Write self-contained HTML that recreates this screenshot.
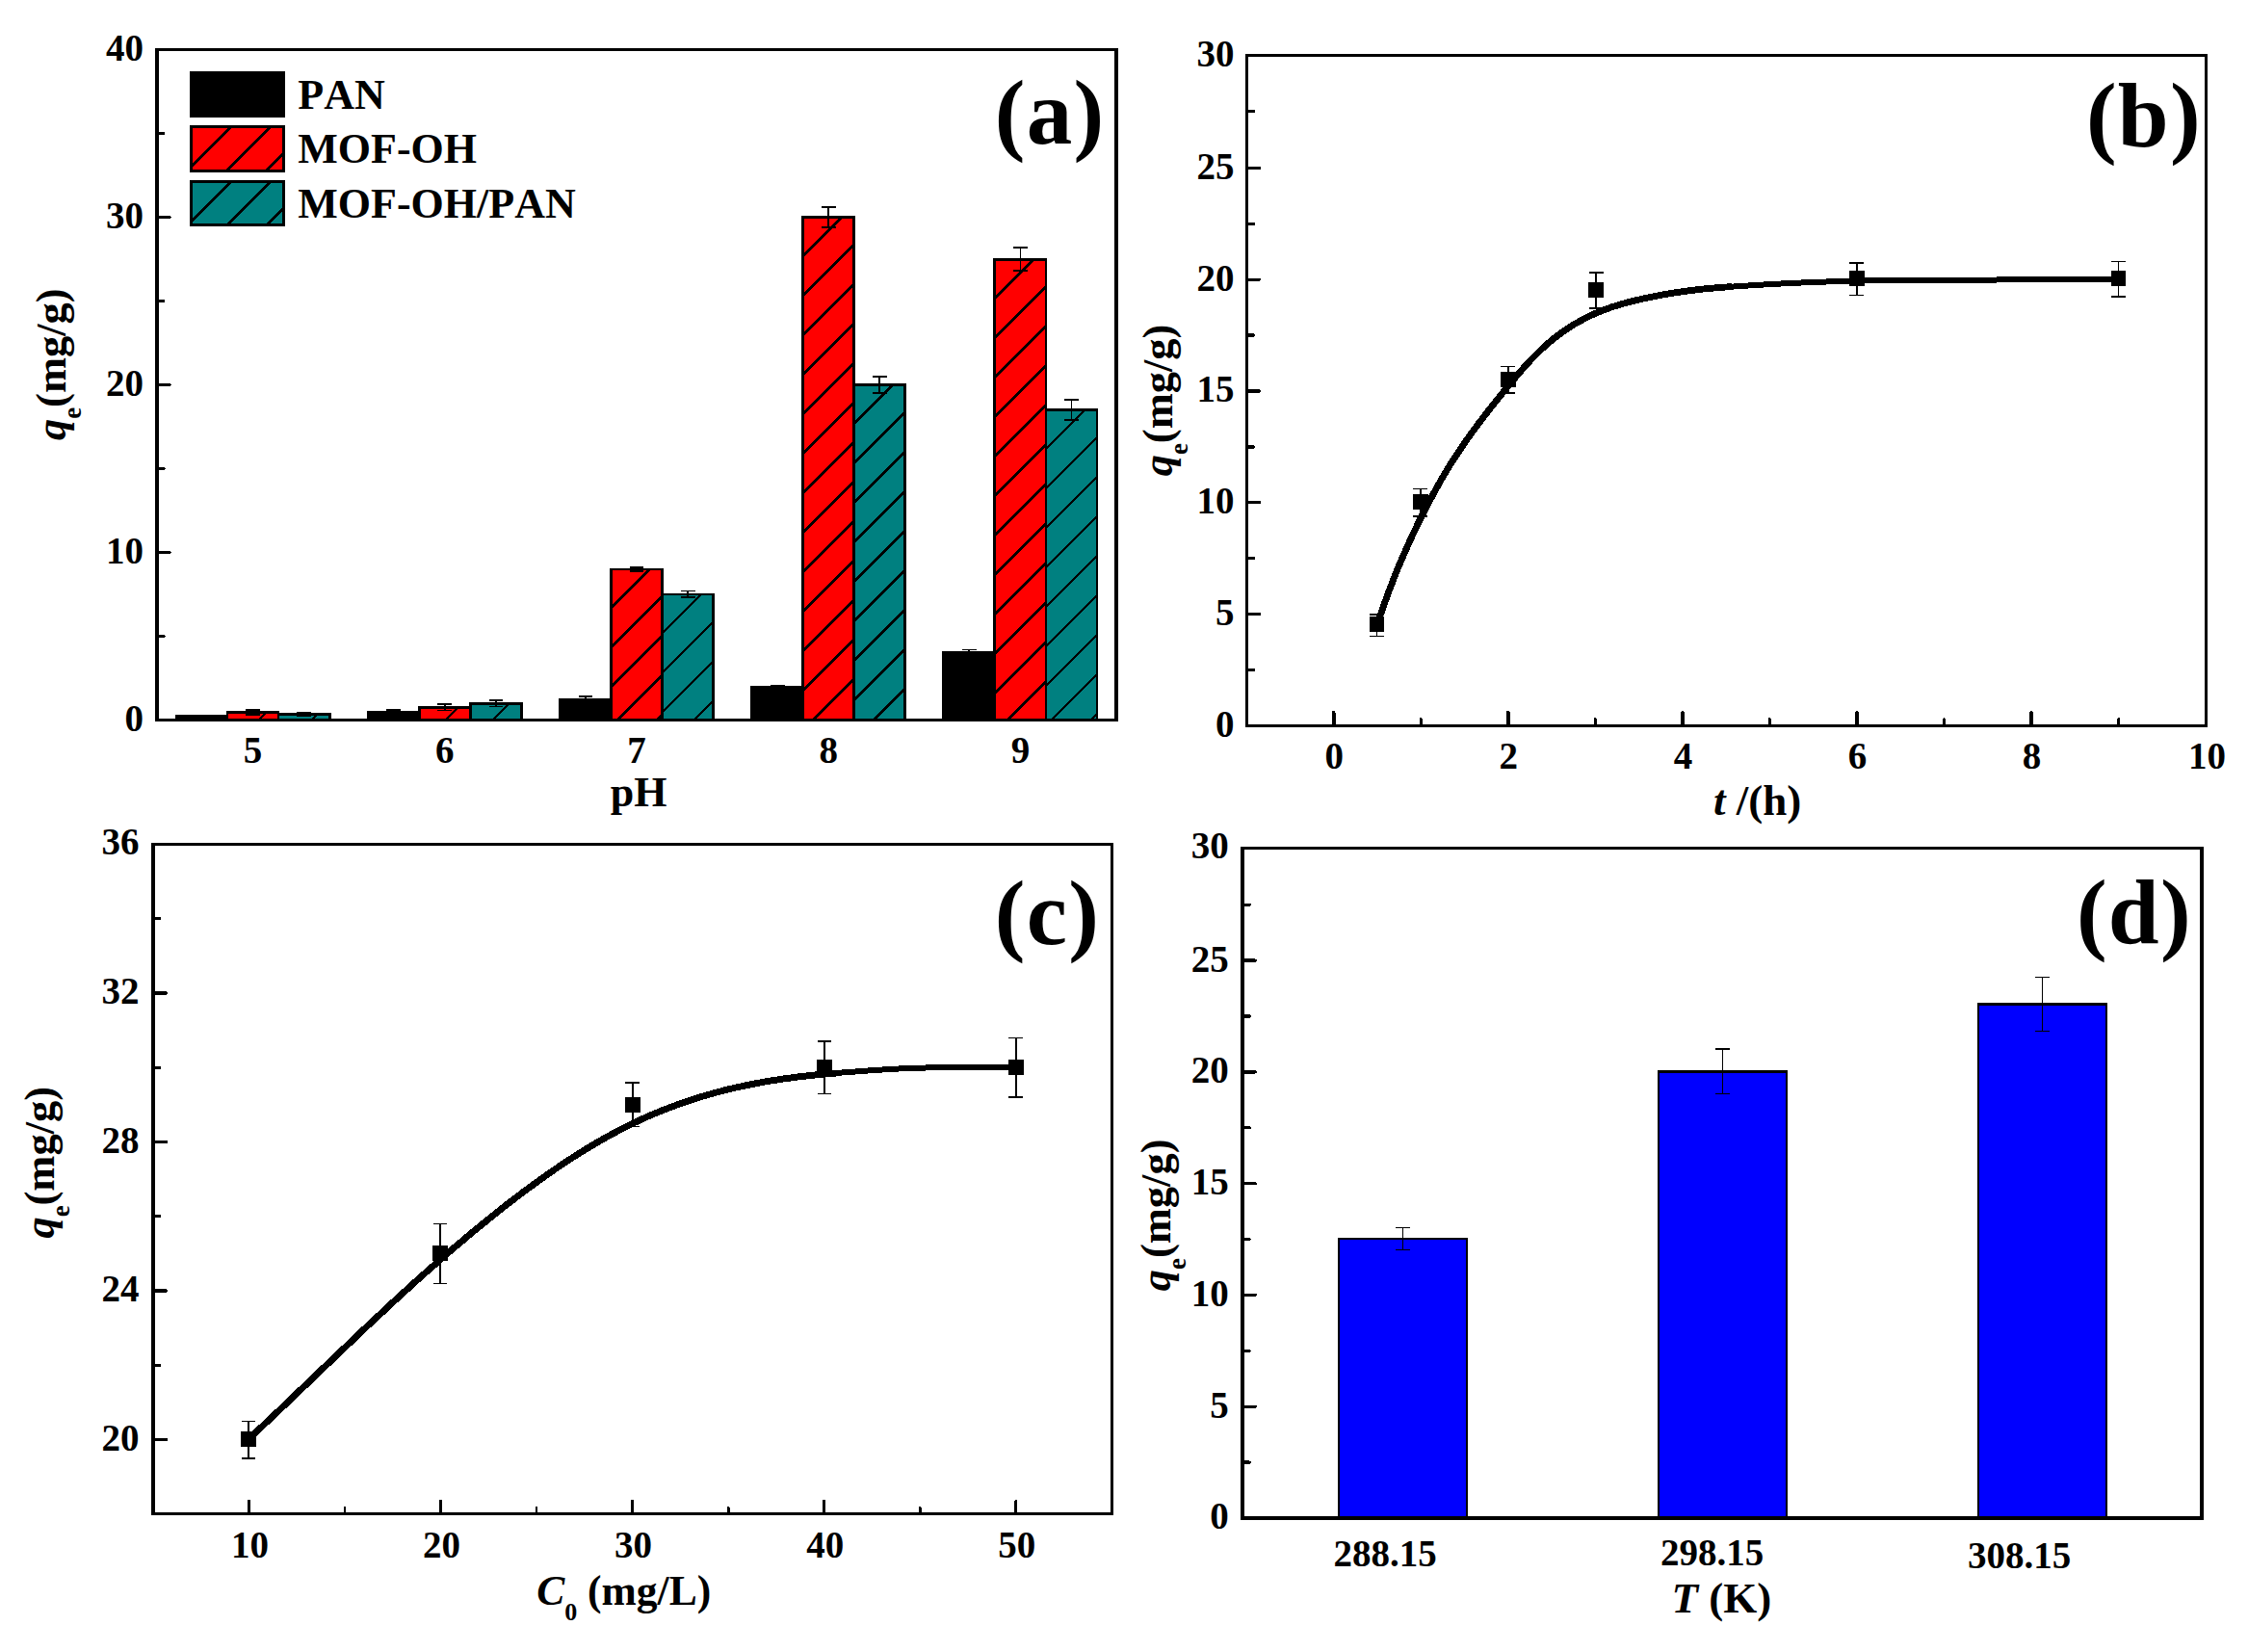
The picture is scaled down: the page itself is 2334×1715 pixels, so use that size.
<!DOCTYPE html>
<html lang="en"><head><meta charset="utf-8"><title>Adsorption figure</title>
<style>html,body{margin:0;padding:0;background:#fff}svg{display:block}line,rect,path{shape-rendering:crispEdges}text{font-kerning:none;font-family:"Liberation Serif", serif;font-weight:bold;fill:#000}</style>
</head><body>
<svg xmlns="http://www.w3.org/2000/svg" width="2334" height="1715" viewBox="0 0 2334 1715">
<rect width="2334" height="1715" fill="#fff"/>
<g id="panel-a">
<rect x="182.95" y="743.40" width="53.10" height="4.00" fill="#000" stroke="#000" stroke-width="2.7"/>
<rect x="236.05" y="739.40" width="53.10" height="8.00" fill="#ff0000" stroke="#000" stroke-width="2.7"/>
<clipPath id="c1"><rect x="236.05" y="739.40" width="53.10" height="8.00"/></clipPath>
<path d="M234.05,781.70L291.15,724.60" stroke="#000" stroke-width="2.45" fill="none" clip-path="url(#c1)"/>
<rect x="289.15" y="741.49" width="53.10" height="5.91" fill="#008080" stroke="#000" stroke-width="2.7"/>
<clipPath id="c2"><rect x="289.15" y="741.49" width="53.10" height="5.91"/></clipPath>
<path d="M287.15,783.79L344.25,726.69" stroke="#000" stroke-width="2.45" fill="none" clip-path="url(#c2)"/>
<line x1="209.50" y1="742.53" x2="209.50" y2="744.27" stroke="#000" stroke-width="2.2" stroke-linecap="butt"/>
<line x1="202.10" y1="742.53" x2="216.90" y2="742.53" stroke="#000" stroke-width="2.0" stroke-linecap="butt"/>
<line x1="202.10" y1="744.27" x2="216.90" y2="744.27" stroke="#000" stroke-width="2.0" stroke-linecap="butt"/>
<line x1="262.60" y1="737.14" x2="262.60" y2="741.66" stroke="#000" stroke-width="2.2" stroke-linecap="butt"/>
<line x1="255.20" y1="737.14" x2="270.00" y2="737.14" stroke="#000" stroke-width="2.0" stroke-linecap="butt"/>
<line x1="255.20" y1="741.66" x2="270.00" y2="741.66" stroke="#000" stroke-width="2.0" stroke-linecap="butt"/>
<line x1="315.70" y1="740.44" x2="315.70" y2="742.53" stroke="#000" stroke-width="2.2" stroke-linecap="butt"/>
<line x1="308.30" y1="740.44" x2="323.10" y2="740.44" stroke="#000" stroke-width="2.0" stroke-linecap="butt"/>
<line x1="308.30" y1="742.53" x2="323.10" y2="742.53" stroke="#000" stroke-width="2.0" stroke-linecap="butt"/>
<rect x="382.15" y="739.40" width="53.10" height="8.00" fill="#000" stroke="#000" stroke-width="2.7"/>
<rect x="435.25" y="734.36" width="53.10" height="13.04" fill="#ff0000" stroke="#000" stroke-width="2.7"/>
<clipPath id="c3"><rect x="435.25" y="734.36" width="53.10" height="13.04"/></clipPath>
<path d="M433.25,776.66L490.35,719.56" stroke="#000" stroke-width="2.45" fill="none" clip-path="url(#c3)"/>
<rect x="488.35" y="730.36" width="53.10" height="17.04" fill="#008080" stroke="#000" stroke-width="2.7"/>
<clipPath id="c4"><rect x="488.35" y="730.36" width="53.10" height="17.04"/></clipPath>
<path d="M486.35,772.66L543.45,715.56" stroke="#000" stroke-width="2.45" fill="none" clip-path="url(#c4)"/>
<line x1="408.70" y1="737.31" x2="408.70" y2="741.49" stroke="#000" stroke-width="2.2" stroke-linecap="butt"/>
<line x1="401.30" y1="737.31" x2="416.10" y2="737.31" stroke="#000" stroke-width="2.0" stroke-linecap="butt"/>
<line x1="401.30" y1="741.49" x2="416.10" y2="741.49" stroke="#000" stroke-width="2.0" stroke-linecap="butt"/>
<line x1="461.80" y1="731.23" x2="461.80" y2="737.49" stroke="#000" stroke-width="1.8" stroke-linecap="butt"/>
<line x1="454.40" y1="731.23" x2="469.20" y2="731.23" stroke="#000" stroke-width="1.6" stroke-linecap="butt"/>
<line x1="454.40" y1="737.49" x2="469.20" y2="737.49" stroke="#000" stroke-width="1.6" stroke-linecap="butt"/>
<line x1="514.90" y1="727.05" x2="514.90" y2="733.66" stroke="#000" stroke-width="1.8" stroke-linecap="butt"/>
<line x1="507.50" y1="727.05" x2="522.30" y2="727.05" stroke="#000" stroke-width="1.6" stroke-linecap="butt"/>
<line x1="507.50" y1="733.66" x2="522.30" y2="733.66" stroke="#000" stroke-width="1.6" stroke-linecap="butt"/>
<rect x="581.35" y="726.53" width="53.10" height="20.87" fill="#000" stroke="#000" stroke-width="2.7"/>
<rect x="634.45" y="590.89" width="53.10" height="156.51" fill="#ff0000" stroke="#000" stroke-width="2.7"/>
<clipPath id="c5"><rect x="634.45" y="590.89" width="53.10" height="156.51"/></clipPath>
<path d="M632.45,633.19L689.55,576.09M632.45,674.19L689.55,617.09M632.45,715.19L689.55,658.09M632.45,756.19L689.55,699.09M632.45,797.19L689.55,740.09" stroke="#000" stroke-width="2.45" fill="none" clip-path="url(#c5)"/>
<rect x="687.55" y="616.97" width="53.10" height="130.43" fill="#008080" stroke="#000" stroke-width="2.7"/>
<clipPath id="c6"><rect x="687.55" y="616.97" width="53.10" height="130.43"/></clipPath>
<path d="M685.55,659.27L742.65,602.17M685.55,700.27L742.65,643.17M685.55,741.27L742.65,684.17M685.55,782.27L742.65,725.17" stroke="#000" stroke-width="2.45" fill="none" clip-path="url(#c6)"/>
<line x1="607.90" y1="723.05" x2="607.90" y2="730.01" stroke="#000" stroke-width="1.8" stroke-linecap="butt"/>
<line x1="600.50" y1="723.05" x2="615.30" y2="723.05" stroke="#000" stroke-width="1.6" stroke-linecap="butt"/>
<line x1="600.50" y1="730.01" x2="615.30" y2="730.01" stroke="#000" stroke-width="1.6" stroke-linecap="butt"/>
<line x1="661.00" y1="588.54" x2="661.00" y2="593.24" stroke="#000" stroke-width="2.2" stroke-linecap="butt"/>
<line x1="653.60" y1="588.54" x2="668.40" y2="588.54" stroke="#000" stroke-width="2.0" stroke-linecap="butt"/>
<line x1="653.60" y1="593.24" x2="668.40" y2="593.24" stroke="#000" stroke-width="2.0" stroke-linecap="butt"/>
<line x1="714.10" y1="613.67" x2="714.10" y2="620.28" stroke="#000" stroke-width="1.8" stroke-linecap="butt"/>
<line x1="706.70" y1="613.67" x2="721.50" y2="613.67" stroke="#000" stroke-width="1.6" stroke-linecap="butt"/>
<line x1="706.70" y1="620.28" x2="721.50" y2="620.28" stroke="#000" stroke-width="1.6" stroke-linecap="butt"/>
<rect x="780.55" y="713.32" width="53.10" height="34.08" fill="#000" stroke="#000" stroke-width="2.7"/>
<rect x="833.65" y="225.70" width="53.10" height="521.70" fill="#ff0000" stroke="#000" stroke-width="2.7"/>
<clipPath id="c7"><rect x="833.65" y="225.70" width="53.10" height="521.70"/></clipPath>
<path d="M831.65,268.00L888.75,210.90M831.65,309.00L888.75,251.90M831.65,350.00L888.75,292.90M831.65,391.00L888.75,333.90M831.65,432.00L888.75,374.90M831.65,473.00L888.75,415.90M831.65,514.00L888.75,456.90M831.65,555.00L888.75,497.90M831.65,596.00L888.75,538.90M831.65,637.00L888.75,579.90M831.65,678.00L888.75,620.90M831.65,719.00L888.75,661.90M831.65,760.00L888.75,702.90M831.65,801.00L888.75,743.90" stroke="#000" stroke-width="2.45" fill="none" clip-path="url(#c7)"/>
<rect x="886.75" y="399.60" width="53.10" height="347.80" fill="#008080" stroke="#000" stroke-width="2.7"/>
<clipPath id="c8"><rect x="886.75" y="399.60" width="53.10" height="347.80"/></clipPath>
<path d="M884.75,441.90L941.85,384.80M884.75,482.90L941.85,425.80M884.75,523.90L941.85,466.80M884.75,564.90L941.85,507.80M884.75,605.90L941.85,548.80M884.75,646.90L941.85,589.80M884.75,687.90L941.85,630.80M884.75,728.90L941.85,671.80M884.75,769.90L941.85,712.80" stroke="#000" stroke-width="2.45" fill="none" clip-path="url(#c8)"/>
<line x1="807.10" y1="711.58" x2="807.10" y2="715.05" stroke="#000" stroke-width="2.2" stroke-linecap="butt"/>
<line x1="799.70" y1="711.58" x2="814.50" y2="711.58" stroke="#000" stroke-width="2.0" stroke-linecap="butt"/>
<line x1="799.70" y1="715.05" x2="814.50" y2="715.05" stroke="#000" stroke-width="2.0" stroke-linecap="butt"/>
<line x1="860.20" y1="215.27" x2="860.20" y2="236.13" stroke="#000" stroke-width="1.8" stroke-linecap="butt"/>
<line x1="852.80" y1="215.27" x2="867.60" y2="215.27" stroke="#000" stroke-width="1.6" stroke-linecap="butt"/>
<line x1="852.80" y1="236.13" x2="867.60" y2="236.13" stroke="#000" stroke-width="1.6" stroke-linecap="butt"/>
<line x1="913.30" y1="390.90" x2="913.30" y2="408.29" stroke="#000" stroke-width="1.8" stroke-linecap="butt"/>
<line x1="905.90" y1="390.90" x2="920.70" y2="390.90" stroke="#000" stroke-width="1.6" stroke-linecap="butt"/>
<line x1="905.90" y1="408.29" x2="920.70" y2="408.29" stroke="#000" stroke-width="1.6" stroke-linecap="butt"/>
<rect x="979.75" y="677.84" width="53.10" height="69.56" fill="#000" stroke="#000" stroke-width="2.7"/>
<rect x="1032.85" y="269.17" width="53.10" height="478.23" fill="#ff0000" stroke="#000" stroke-width="2.7"/>
<clipPath id="c9"><rect x="1032.85" y="269.17" width="53.10" height="478.23"/></clipPath>
<path d="M1030.85,311.48L1087.95,254.38M1030.85,352.48L1087.95,295.38M1030.85,393.48L1087.95,336.38M1030.85,434.48L1087.95,377.38M1030.85,475.48L1087.95,418.38M1030.85,516.48L1087.95,459.38M1030.85,557.48L1087.95,500.38M1030.85,598.48L1087.95,541.38M1030.85,639.48L1087.95,582.38M1030.85,680.48L1087.95,623.38M1030.85,721.48L1087.95,664.38M1030.85,762.48L1087.95,705.38" stroke="#000" stroke-width="2.45" fill="none" clip-path="url(#c9)"/>
<rect x="1085.95" y="425.68" width="53.10" height="321.72" fill="#008080" stroke="#000" stroke-width="2.7"/>
<clipPath id="c10"><rect x="1085.95" y="425.68" width="53.10" height="321.72"/></clipPath>
<path d="M1083.95,467.98L1141.05,410.88M1083.95,508.98L1141.05,451.88M1083.95,549.98L1141.05,492.88M1083.95,590.98L1141.05,533.88M1083.95,631.98L1141.05,574.88M1083.95,672.98L1141.05,615.88M1083.95,713.98L1141.05,656.88M1083.95,754.98L1141.05,697.88M1083.95,795.98L1141.05,738.88" stroke="#000" stroke-width="2.45" fill="none" clip-path="url(#c10)"/>
<line x1="1006.30" y1="674.36" x2="1006.30" y2="681.32" stroke="#000" stroke-width="1.8" stroke-linecap="butt"/>
<line x1="998.90" y1="674.36" x2="1013.70" y2="674.36" stroke="#000" stroke-width="1.6" stroke-linecap="butt"/>
<line x1="998.90" y1="681.32" x2="1013.70" y2="681.32" stroke="#000" stroke-width="1.6" stroke-linecap="butt"/>
<line x1="1059.40" y1="257.18" x2="1059.40" y2="281.17" stroke="#000" stroke-width="1.8" stroke-linecap="butt"/>
<line x1="1052.00" y1="257.18" x2="1066.80" y2="257.18" stroke="#000" stroke-width="1.6" stroke-linecap="butt"/>
<line x1="1052.00" y1="281.17" x2="1066.80" y2="281.17" stroke="#000" stroke-width="1.6" stroke-linecap="butt"/>
<line x1="1112.50" y1="415.25" x2="1112.50" y2="436.12" stroke="#000" stroke-width="1.8" stroke-linecap="butt"/>
<line x1="1105.10" y1="415.25" x2="1119.90" y2="415.25" stroke="#000" stroke-width="1.6" stroke-linecap="butt"/>
<line x1="1105.10" y1="436.12" x2="1119.90" y2="436.12" stroke="#000" stroke-width="1.6" stroke-linecap="butt"/>
<line x1="163.00" y1="50.40" x2="163.00" y2="748.80" stroke="#000" stroke-width="3.9" stroke-linecap="butt"/>
<line x1="1159.00" y1="50.40" x2="1159.00" y2="748.80" stroke="#000" stroke-width="3.7" stroke-linecap="butt"/>
<line x1="161.05" y1="51.80" x2="1160.85" y2="51.80" stroke="#000" stroke-width="2.8" stroke-linecap="butt"/>
<line x1="161.05" y1="747.40" x2="1160.85" y2="747.40" stroke="#000" stroke-width="2.8" stroke-linecap="butt"/>
<text x="149.00" y="758.80" font-size="39" text-anchor="end" >0</text>
<line x1="163.00" y1="660.45" x2="169.90" y2="660.45" stroke="#000" stroke-width="3.3" stroke-linecap="round"/>
<line x1="163.00" y1="573.50" x2="176.10" y2="573.50" stroke="#000" stroke-width="3.3" stroke-linecap="round"/>
<text x="149.00" y="584.90" font-size="39" text-anchor="end" >10</text>
<line x1="163.00" y1="486.55" x2="169.90" y2="486.55" stroke="#000" stroke-width="3.3" stroke-linecap="round"/>
<line x1="163.00" y1="399.60" x2="176.10" y2="399.60" stroke="#000" stroke-width="3.3" stroke-linecap="round"/>
<text x="149.00" y="411.00" font-size="39" text-anchor="end" >20</text>
<line x1="163.00" y1="312.65" x2="169.90" y2="312.65" stroke="#000" stroke-width="3.3" stroke-linecap="round"/>
<line x1="163.00" y1="225.70" x2="176.10" y2="225.70" stroke="#000" stroke-width="3.3" stroke-linecap="round"/>
<text x="149.00" y="237.10" font-size="39" text-anchor="end" >30</text>
<line x1="163.00" y1="138.75" x2="169.90" y2="138.75" stroke="#000" stroke-width="3.3" stroke-linecap="round"/>
<text x="149.00" y="63.20" font-size="39" text-anchor="end" >40</text>
<text x="262.60" y="791.80" font-size="39" text-anchor="middle" >5</text>
<text x="461.80" y="791.80" font-size="39" text-anchor="middle" >6</text>
<text x="661.00" y="791.80" font-size="39" text-anchor="middle" >7</text>
<text x="860.20" y="791.80" font-size="39" text-anchor="middle" >8</text>
<text x="1059.40" y="791.80" font-size="39" text-anchor="middle" >9</text>
<text x="663.20" y="836.80" font-size="44" text-anchor="middle" >pH</text>
<text transform="translate(68.00,457.00) rotate(-90)" font-size="44.5"><tspan font-style="italic">q</tspan><tspan font-size="26.7" dy="16">e</tspan><tspan dy="-16">(mg/g)</tspan></text>
<text x="1032.80" y="149.00" font-size="95" text-anchor="start" letter-spacing="1.3">(a)</text>
<rect x="198.35" y="75.40" width="96.20" height="45.05" fill="#000" stroke="#000" stroke-width="2.7"/>
<text x="309.30" y="112.80" font-size="44" text-anchor="start" >PAN</text>
<rect x="198.35" y="131.45" width="96.20" height="46.00" fill="#ff0000" stroke="#000" stroke-width="2.7"/>
<clipPath id="c11"><rect x="198.35" y="131.45" width="96.20" height="46.00"/></clipPath>
<path d="M196.35,175.25L296.55,75.05M196.35,216.25L296.55,116.05M196.35,257.25L296.55,157.05" stroke="#000" stroke-width="2.45" fill="none" clip-path="url(#c11)"/>
<text x="309.30" y="168.90" font-size="44" text-anchor="start" >MOF-OH</text>
<rect x="198.35" y="188.45" width="96.20" height="45.10" fill="#008080" stroke="#000" stroke-width="2.7"/>
<clipPath id="c12"><rect x="198.35" y="188.45" width="96.20" height="45.10"/></clipPath>
<path d="M196.35,232.25L296.55,132.05M196.35,273.25L296.55,173.05M196.35,314.25L296.55,214.05" stroke="#000" stroke-width="2.45" fill="none" clip-path="url(#c12)"/>
<text x="309.30" y="225.90" font-size="44" text-anchor="start" >MOF-OH/PAN</text>
</g>
<g id="panel-b">
<line x1="1294.50" y1="56.10" x2="1294.50" y2="754.85" stroke="#000" stroke-width="3.1" stroke-linecap="butt"/>
<line x1="2290.50" y1="56.10" x2="2290.50" y2="754.85" stroke="#000" stroke-width="2.8" stroke-linecap="butt"/>
<line x1="1292.95" y1="57.60" x2="2291.90" y2="57.60" stroke="#000" stroke-width="3.0" stroke-linecap="butt"/>
<line x1="1292.95" y1="753.40" x2="2291.90" y2="753.40" stroke="#000" stroke-width="2.9" stroke-linecap="butt"/>
<text x="1281.40" y="764.70" font-size="39" text-anchor="end" >0</text>
<line x1="1294.50" y1="695.41" x2="1301.50" y2="695.41" stroke="#000" stroke-width="3.3" stroke-linecap="round"/>
<line x1="1294.50" y1="637.52" x2="1307.50" y2="637.52" stroke="#000" stroke-width="3.3" stroke-linecap="round"/>
<text x="1281.40" y="648.92" font-size="39" text-anchor="end" >5</text>
<line x1="1294.50" y1="579.64" x2="1301.50" y2="579.64" stroke="#000" stroke-width="3.3" stroke-linecap="round"/>
<line x1="1294.50" y1="521.75" x2="1307.50" y2="521.75" stroke="#000" stroke-width="3.3" stroke-linecap="round"/>
<text x="1281.40" y="533.15" font-size="39" text-anchor="end" >10</text>
<line x1="1294.50" y1="463.86" x2="1301.50" y2="463.86" stroke="#000" stroke-width="3.3" stroke-linecap="round"/>
<line x1="1294.50" y1="405.97" x2="1307.50" y2="405.97" stroke="#000" stroke-width="3.3" stroke-linecap="round"/>
<text x="1281.40" y="417.37" font-size="39" text-anchor="end" >15</text>
<line x1="1294.50" y1="348.09" x2="1301.50" y2="348.09" stroke="#000" stroke-width="3.3" stroke-linecap="round"/>
<line x1="1294.50" y1="290.20" x2="1307.50" y2="290.20" stroke="#000" stroke-width="3.3" stroke-linecap="round"/>
<text x="1281.40" y="301.60" font-size="39" text-anchor="end" >20</text>
<line x1="1294.50" y1="232.31" x2="1301.50" y2="232.31" stroke="#000" stroke-width="3.3" stroke-linecap="round"/>
<line x1="1294.50" y1="174.42" x2="1307.50" y2="174.42" stroke="#000" stroke-width="3.3" stroke-linecap="round"/>
<text x="1281.40" y="185.82" font-size="39" text-anchor="end" >25</text>
<line x1="1294.50" y1="115.40" x2="1301.50" y2="115.40" stroke="#000" stroke-width="3.3" stroke-linecap="round"/>
<text x="1281.40" y="69.00" font-size="39" text-anchor="end" >30</text>
<line x1="1384.80" y1="752.40" x2="1384.80" y2="739.80" stroke="#000" stroke-width="3.6" stroke-linecap="round"/>
<text x="1385.30" y="798.00" font-size="39" text-anchor="middle" >0</text>
<line x1="1475.33" y1="752.40" x2="1475.33" y2="746.60" stroke="#000" stroke-width="2.8" stroke-linecap="round"/>
<line x1="1565.86" y1="752.40" x2="1565.86" y2="739.80" stroke="#000" stroke-width="3.6" stroke-linecap="round"/>
<text x="1566.36" y="798.00" font-size="39" text-anchor="middle" >2</text>
<line x1="1656.39" y1="752.40" x2="1656.39" y2="746.60" stroke="#000" stroke-width="2.8" stroke-linecap="round"/>
<line x1="1746.92" y1="752.40" x2="1746.92" y2="739.80" stroke="#000" stroke-width="3.6" stroke-linecap="round"/>
<text x="1747.42" y="798.00" font-size="39" text-anchor="middle" >4</text>
<line x1="1837.45" y1="752.40" x2="1837.45" y2="746.60" stroke="#000" stroke-width="2.8" stroke-linecap="round"/>
<line x1="1927.98" y1="752.40" x2="1927.98" y2="739.80" stroke="#000" stroke-width="3.6" stroke-linecap="round"/>
<text x="1928.48" y="798.00" font-size="39" text-anchor="middle" >6</text>
<line x1="2018.51" y1="752.40" x2="2018.51" y2="746.60" stroke="#000" stroke-width="2.8" stroke-linecap="round"/>
<line x1="2109.04" y1="752.40" x2="2109.04" y2="739.80" stroke="#000" stroke-width="3.6" stroke-linecap="round"/>
<text x="2109.54" y="798.00" font-size="39" text-anchor="middle" >8</text>
<line x1="2199.57" y1="752.40" x2="2199.57" y2="746.60" stroke="#000" stroke-width="2.8" stroke-linecap="round"/>
<text x="2291.60" y="798.00" font-size="39" text-anchor="middle" >10</text>
<path d="M1430.0,647.9 L1433.0,639.1 L1436.0,630.5 L1439.0,622.1 L1442.0,614.0 L1445.0,606.1 L1448.0,598.4 L1451.0,590.9 L1454.0,583.7 L1457.1,576.6 L1460.1,569.8 L1463.1,563.1 L1466.1,556.6 L1469.1,550.2 L1472.1,544.0 L1475.1,537.9 L1478.1,532.0 L1481.1,526.1 L1484.1,520.3 L1487.1,514.7 L1490.1,509.2 L1493.1,503.8 L1496.1,498.5 L1499.1,493.3 L1502.1,488.3 L1505.1,483.4 L1508.2,478.6 L1511.2,473.9 L1514.2,469.3 L1517.2,464.8 L1520.2,460.4 L1523.2,456.1 L1526.2,451.9 L1529.2,447.7 L1532.2,443.7 L1535.2,439.6 L1538.2,435.7 L1541.2,431.8 L1544.2,427.9 L1547.2,424.0 L1550.2,420.2 L1553.2,416.5 L1556.2,412.7 L1559.3,408.9 L1562.3,405.2 L1565.3,401.5 L1568.3,397.9 L1571.3,394.3 L1574.3,390.7 L1577.3,387.2 L1580.3,383.7 L1583.3,380.4 L1586.3,377.0 L1589.3,373.8 L1592.3,370.7 L1595.3,367.6 L1598.3,364.7 L1601.3,361.8 L1604.3,359.0 L1607.3,356.4 L1610.4,353.8 L1613.4,351.4 L1616.4,349.0 L1619.4,346.8 L1622.4,344.6 L1625.4,342.5 L1628.4,340.5 L1631.4,338.6 L1634.4,336.7 L1637.4,335.0 L1640.4,333.3 L1643.4,331.7 L1646.4,330.1 L1649.4,328.6 L1652.4,327.2 L1655.4,325.8 L1658.4,324.5 L1661.5,323.3 L1664.5,322.1 L1667.5,321.0 L1670.5,319.9 L1673.5,318.8 L1676.5,317.9 L1679.5,316.9 L1682.5,316.0 L1685.5,315.1 L1688.5,314.3 L1691.5,313.5 L1694.5,312.7 L1697.5,312.0 L1700.5,311.3 L1703.5,310.6 L1706.5,309.9 L1709.5,309.3 L1712.6,308.7 L1715.6,308.1 L1718.6,307.5 L1721.6,306.9 L1724.6,306.3 L1727.6,305.8 L1730.6,305.3 L1733.6,304.8 L1736.6,304.3 L1739.6,303.8 L1742.6,303.3 L1745.6,302.9 L1748.6,302.5 L1751.6,302.0 L1754.6,301.7 L1757.6,301.3 L1760.6,300.9 L1763.7,300.6 L1766.7,300.2 L1769.7,299.9 L1772.7,299.6 L1775.7,299.4 L1778.7,299.1 L1781.7,298.8 L1784.7,298.6 L1787.7,298.4 L1790.7,298.1 L1793.7,297.9 L1796.7,297.7 L1799.7,297.5 L1802.7,297.3 L1805.7,297.1 L1808.7,296.9 L1811.7,296.7 L1814.8,296.5 L1817.8,296.4 L1820.8,296.2 L1823.8,296.0 L1826.8,295.8 L1829.8,295.6 L1832.8,295.4 L1835.8,295.3 L1838.8,295.1 L1841.8,294.9 L1844.8,294.7 L1847.8,294.6 L1850.8,294.4 L1853.8,294.3 L1856.8,294.1 L1859.8,294.0 L1862.8,293.8 L1865.8,293.7 L1868.9,293.6 L1871.9,293.4 L1874.9,293.3 L1877.9,293.2 L1880.9,293.1 L1883.9,293.0 L1886.9,292.9 L1889.9,292.8 L1892.9,292.7 L1895.9,292.5 L1898.9,292.4 L1901.9,292.3 L1904.9,292.2 L1907.9,292.1 L1910.9,292.0 L1913.9,291.9 L1916.9,291.8 L1920.0,291.7 L1923.0,291.6 L1926.0,291.5 L1929.0,291.5 L1932.0,291.4 L1935.0,291.3 L1938.0,291.2 L1941.0,291.2 L1944.0,291.1 L1947.0,291.1 L1950.0,291.0 L1953.0,291.0 L1956.0,291.0 L1959.0,291.0 L1962.0,290.9 L1965.0,290.9 L1968.0,290.9 L1971.1,290.9 L1974.1,290.9 L1977.1,290.9 L1980.1,290.8 L1983.1,290.8 L1986.1,290.8 L1989.1,290.8 L1992.1,290.8 L1995.1,290.8 L1998.1,290.8 L2001.1,290.7 L2004.1,290.7 L2007.1,290.7 L2010.1,290.7 L2013.1,290.7 L2016.1,290.7 L2019.1,290.7 L2022.2,290.6 L2025.2,290.6 L2028.2,290.6 L2031.2,290.6 L2034.2,290.6 L2037.2,290.6 L2040.2,290.6 L2043.2,290.6 L2046.2,290.5 L2049.2,290.5 L2052.2,290.5 L2055.2,290.5 L2058.2,290.5 L2061.2,290.5 L2064.2,290.5 L2067.2,290.5 L2070.2,290.5 L2073.3,290.5 L2076.3,290.4 L2079.3,290.4 L2082.3,290.4 L2085.3,290.4 L2088.3,290.4 L2091.3,290.4 L2094.3,290.4 L2097.3,290.4 L2100.3,290.4 L2103.3,290.3 L2106.3,290.3 L2109.3,290.3 L2112.3,290.3 L2115.3,290.3 L2118.3,290.3 L2121.3,290.3 L2124.4,290.3 L2127.4,290.3 L2130.4,290.3 L2133.4,290.2 L2136.4,290.2 L2139.4,290.2 L2142.4,290.2 L2145.4,290.2 L2148.4,290.2 L2151.4,290.2 L2154.4,290.2 L2157.4,290.2 L2160.4,290.1 L2163.4,290.1 L2166.4,290.1 L2169.4,290.1 L2172.4,290.1 L2175.5,290.1 L2178.5,290.1 L2181.5,290.1 L2184.5,290.1 L2187.5,290.0 L2190.5,290.0 L2193.5,290.0 L2196.5,290.0 L2199.5,290.0" fill="none" stroke="#000" stroke-width="6.0" stroke-linejoin="round"/>
<path d="M1430.0,647.9 L1433.0,639.1 L1436.0,630.5 L1439.0,622.1 L1442.0,614.0 L1445.0,606.1 L1448.0,598.4 L1451.0,590.9 L1454.0,583.7 L1457.1,576.6 L1460.1,569.8 L1463.1,563.1 L1466.1,556.6 L1469.1,550.2 L1472.1,544.0 L1475.1,537.9 L1478.1,532.0 L1481.1,526.1 L1484.1,520.3 L1487.1,514.7 L1490.1,509.2 L1493.1,503.8 L1496.1,498.5 L1499.1,493.3 L1502.1,488.3 L1505.1,483.4 L1508.2,478.6 L1511.2,473.9 L1514.2,469.3 L1517.2,464.8 L1520.2,460.4 L1523.2,456.1 L1526.2,451.9 L1529.2,447.7 L1532.2,443.7 L1535.2,439.6 L1538.2,435.7 L1541.2,431.8 L1544.2,427.9 L1547.2,424.0 L1550.2,420.2 L1553.2,416.5 L1556.2,412.7 L1559.3,408.9 L1562.3,405.2 L1565.3,401.5 L1568.3,397.9 L1571.3,394.3 L1574.3,390.7 L1577.3,387.2 L1580.3,383.7 L1583.3,380.4 L1586.3,377.0 L1589.3,373.8 L1592.3,370.7 L1595.3,367.6 L1598.3,364.7 L1601.3,361.8 L1604.3,359.0 L1607.3,356.4 L1610.4,353.8 L1613.4,351.4 L1616.4,349.0 L1619.4,346.8 L1622.4,344.6 L1625.4,342.5 L1628.4,340.5 L1631.4,338.6 L1634.4,336.7 L1637.4,335.0 L1640.4,333.3 L1643.4,331.7 L1646.4,330.1 L1649.4,328.6 L1652.4,327.2 L1655.4,325.8 L1658.4,324.5 L1661.5,323.3 L1664.5,322.1 L1667.5,321.0 L1670.5,319.9 L1673.5,318.8 L1676.5,317.9 L1679.5,316.9 L1682.5,316.0 L1685.5,315.1 L1688.5,314.3 L1691.5,313.5 L1694.5,312.7 L1697.5,312.0 L1700.5,311.3 L1703.5,310.6 L1706.5,309.9 L1709.5,309.3 L1712.6,308.7 L1715.6,308.1 L1718.6,307.5 L1721.6,306.9 L1724.6,306.3 L1727.6,305.8 L1730.6,305.3 L1733.6,304.8 L1736.6,304.3 L1739.6,303.8 L1742.6,303.3 L1745.6,302.9 L1748.6,302.5 L1751.6,302.0 L1754.6,301.7 L1757.6,301.3 L1760.6,300.9 L1763.7,300.6 L1766.7,300.2 L1769.7,299.9 L1772.7,299.6 L1775.7,299.4 L1778.7,299.1 L1781.7,298.8 L1784.7,298.6 L1787.7,298.4 L1790.7,298.1 L1793.7,297.9 L1796.7,297.7" fill="none" stroke="#000" stroke-width="6.9" stroke-linejoin="round" stroke-linecap="round"/>
<line x1="1429.40" y1="637.90" x2="1429.40" y2="660.50" stroke="#000" stroke-width="1.8" stroke-linecap="butt"/>
<line x1="1421.90" y1="637.90" x2="1436.90" y2="637.90" stroke="#000" stroke-width="1.6" stroke-linecap="butt"/>
<line x1="1421.90" y1="660.50" x2="1436.90" y2="660.50" stroke="#000" stroke-width="1.6" stroke-linecap="butt"/>
<rect x="1421.60" y="640.10" width="15.6" height="15.6" fill="#000"/>
<line x1="1474.90" y1="507.40" x2="1474.90" y2="535.90" stroke="#000" stroke-width="1.8" stroke-linecap="butt"/>
<line x1="1467.40" y1="507.40" x2="1482.40" y2="507.40" stroke="#000" stroke-width="1.6" stroke-linecap="butt"/>
<line x1="1467.40" y1="535.90" x2="1482.40" y2="535.90" stroke="#000" stroke-width="1.6" stroke-linecap="butt"/>
<rect x="1467.10" y="513.15" width="15.6" height="15.6" fill="#000"/>
<line x1="1565.90" y1="380.30" x2="1565.90" y2="408.00" stroke="#000" stroke-width="1.8" stroke-linecap="butt"/>
<line x1="1558.40" y1="380.30" x2="1573.40" y2="380.30" stroke="#000" stroke-width="1.6" stroke-linecap="butt"/>
<line x1="1558.40" y1="408.00" x2="1573.40" y2="408.00" stroke="#000" stroke-width="1.6" stroke-linecap="butt"/>
<rect x="1558.10" y="386.30" width="15.6" height="15.6" fill="#000"/>
<line x1="1657.00" y1="283.00" x2="1657.00" y2="319.95" stroke="#000" stroke-width="1.8" stroke-linecap="butt"/>
<line x1="1649.50" y1="283.00" x2="1664.50" y2="283.00" stroke="#000" stroke-width="1.6" stroke-linecap="butt"/>
<line x1="1649.50" y1="319.95" x2="1664.50" y2="319.95" stroke="#000" stroke-width="1.6" stroke-linecap="butt"/>
<rect x="1649.20" y="293.20" width="15.6" height="15.6" fill="#000"/>
<line x1="1927.95" y1="272.90" x2="1927.95" y2="306.50" stroke="#000" stroke-width="1.8" stroke-linecap="butt"/>
<line x1="1920.45" y1="272.90" x2="1935.45" y2="272.90" stroke="#000" stroke-width="1.6" stroke-linecap="butt"/>
<line x1="1920.45" y1="306.50" x2="1935.45" y2="306.50" stroke="#000" stroke-width="1.6" stroke-linecap="butt"/>
<rect x="1920.15" y="281.10" width="15.6" height="15.6" fill="#000"/>
<line x1="2199.50" y1="271.40" x2="2199.50" y2="308.00" stroke="#000" stroke-width="1.8" stroke-linecap="butt"/>
<line x1="2192.00" y1="271.40" x2="2207.00" y2="271.40" stroke="#000" stroke-width="1.6" stroke-linecap="butt"/>
<line x1="2192.00" y1="308.00" x2="2207.00" y2="308.00" stroke="#000" stroke-width="1.6" stroke-linecap="butt"/>
<rect x="2191.70" y="281.10" width="15.6" height="15.6" fill="#000"/>
<text transform="translate(1217.00,494.30) rotate(-90)" font-size="44.5"><tspan font-style="italic">q</tspan><tspan font-size="26.7" dy="16">e</tspan><tspan dy="-16">(mg/g)</tspan></text>
<text x="2165.90" y="152.00" font-size="95" text-anchor="start" letter-spacing="1.3">(b)</text>
<text x="1779.0" y="846.0" font-size="45"><tspan font-style="italic">t</tspan> /(h)</text>
</g>
<g id="panel-c">
<line x1="159.10" y1="874.95" x2="159.10" y2="1573.45" stroke="#000" stroke-width="3.9" stroke-linecap="butt"/>
<line x1="1154.50" y1="874.95" x2="1154.50" y2="1573.45" stroke="#000" stroke-width="3.1" stroke-linecap="butt"/>
<line x1="157.15" y1="876.60" x2="1156.05" y2="876.60" stroke="#000" stroke-width="3.3" stroke-linecap="butt"/>
<line x1="157.15" y1="1571.80" x2="1156.05" y2="1571.80" stroke="#000" stroke-width="3.3" stroke-linecap="butt"/>
<line x1="159.10" y1="1494.56" x2="172.50" y2="1494.56" stroke="#000" stroke-width="3.3" stroke-linecap="round"/>
<text x="144.40" y="1505.76" font-size="39" text-anchor="end" >20</text>
<line x1="159.10" y1="1417.31" x2="165.70" y2="1417.31" stroke="#000" stroke-width="3.3" stroke-linecap="round"/>
<line x1="159.10" y1="1340.07" x2="172.50" y2="1340.07" stroke="#000" stroke-width="3.3" stroke-linecap="round"/>
<text x="144.40" y="1351.27" font-size="39" text-anchor="end" >24</text>
<line x1="159.10" y1="1262.82" x2="165.70" y2="1262.82" stroke="#000" stroke-width="3.3" stroke-linecap="round"/>
<line x1="159.10" y1="1185.58" x2="172.50" y2="1185.58" stroke="#000" stroke-width="3.3" stroke-linecap="round"/>
<text x="144.40" y="1196.78" font-size="39" text-anchor="end" >28</text>
<line x1="159.10" y1="1108.33" x2="165.70" y2="1108.33" stroke="#000" stroke-width="3.3" stroke-linecap="round"/>
<line x1="159.10" y1="1031.09" x2="172.50" y2="1031.09" stroke="#000" stroke-width="3.3" stroke-linecap="round"/>
<text x="144.40" y="1042.29" font-size="39" text-anchor="end" >32</text>
<line x1="159.10" y1="953.84" x2="165.70" y2="953.84" stroke="#000" stroke-width="3.3" stroke-linecap="round"/>
<text x="144.40" y="887.30" font-size="39" text-anchor="end" >36</text>
<line x1="258.40" y1="1570.80" x2="258.40" y2="1558.60" stroke="#000" stroke-width="3.2" stroke-linecap="round"/>
<text x="259.40" y="1616.80" font-size="39" text-anchor="middle" >10</text>
<line x1="357.95" y1="1570.80" x2="357.95" y2="1565.40" stroke="#000" stroke-width="2.8" stroke-linecap="round"/>
<line x1="457.50" y1="1570.80" x2="457.50" y2="1558.60" stroke="#000" stroke-width="3.2" stroke-linecap="round"/>
<text x="458.50" y="1616.80" font-size="39" text-anchor="middle" >20</text>
<line x1="557.05" y1="1570.80" x2="557.05" y2="1565.40" stroke="#000" stroke-width="2.8" stroke-linecap="round"/>
<line x1="656.60" y1="1570.80" x2="656.60" y2="1558.60" stroke="#000" stroke-width="3.2" stroke-linecap="round"/>
<text x="657.60" y="1616.80" font-size="39" text-anchor="middle" >30</text>
<line x1="756.15" y1="1570.80" x2="756.15" y2="1565.40" stroke="#000" stroke-width="2.8" stroke-linecap="round"/>
<line x1="855.70" y1="1570.80" x2="855.70" y2="1558.60" stroke="#000" stroke-width="3.2" stroke-linecap="round"/>
<text x="856.70" y="1616.80" font-size="39" text-anchor="middle" >40</text>
<line x1="955.25" y1="1570.80" x2="955.25" y2="1565.40" stroke="#000" stroke-width="2.8" stroke-linecap="round"/>
<line x1="1054.80" y1="1570.80" x2="1054.80" y2="1558.60" stroke="#000" stroke-width="3.2" stroke-linecap="round"/>
<text x="1055.80" y="1616.80" font-size="39" text-anchor="middle" >50</text>
<path d="M258.0,1494.0 L261.0,1491.2 L264.0,1488.4 L267.0,1485.6 L270.0,1482.8 L273.0,1480.0 L276.0,1477.1 L279.0,1474.3 L282.0,1471.5 L285.1,1468.6 L288.1,1465.8 L291.1,1462.9 L294.1,1460.0 L297.1,1457.2 L300.1,1454.3 L303.1,1451.5 L306.1,1448.6 L309.1,1445.7 L312.1,1442.8 L315.1,1440.0 L318.1,1437.1 L321.1,1434.2 L324.1,1431.3 L327.1,1428.4 L330.1,1425.6 L333.1,1422.7 L336.1,1419.8 L339.2,1416.9 L342.2,1414.0 L345.2,1411.2 L348.2,1408.3 L351.2,1405.4 L354.2,1402.5 L357.2,1399.7 L360.2,1396.8 L363.2,1394.0 L366.2,1391.1 L369.2,1388.2 L372.2,1385.4 L375.2,1382.5 L378.2,1379.7 L381.2,1376.9 L384.2,1374.0 L387.2,1371.2 L390.2,1368.4 L393.3,1365.6 L396.3,1362.8 L399.3,1360.0 L402.3,1357.2 L405.3,1354.4 L408.3,1351.6 L411.3,1348.9 L414.3,1346.1 L417.3,1343.4 L420.3,1340.6 L423.3,1337.9 L426.3,1335.2 L429.3,1332.4 L432.3,1329.7 L435.3,1327.0 L438.3,1324.4 L441.3,1321.7 L444.4,1319.0 L447.4,1316.3 L450.4,1313.7 L453.4,1311.1 L456.4,1308.4 L459.4,1305.8 L462.4,1303.2 L465.4,1300.6 L468.4,1298.0 L471.4,1295.4 L474.4,1292.9 L477.4,1290.3 L480.4,1287.8 L483.4,1285.2 L486.4,1282.7 L489.4,1280.2 L492.4,1277.7 L495.4,1275.2 L498.5,1272.8 L501.5,1270.3 L504.5,1267.9 L507.5,1265.4 L510.5,1263.0 L513.5,1260.6 L516.5,1258.2 L519.5,1255.8 L522.5,1253.5 L525.5,1251.1 L528.5,1248.8 L531.5,1246.5 L534.5,1244.2 L537.5,1241.9 L540.5,1239.6 L543.5,1237.3 L546.5,1235.1 L549.5,1232.9 L552.6,1230.7 L555.6,1228.5 L558.6,1226.3 L561.6,1224.1 L564.6,1222.0 L567.6,1219.9 L570.6,1217.8 L573.6,1215.7 L576.6,1213.6 L579.6,1211.6 L582.6,1209.5 L585.6,1207.5 L588.6,1205.5 L591.6,1203.6 L594.6,1201.6 L597.6,1199.7 L600.6,1197.8 L603.7,1195.9 L606.7,1194.0 L609.7,1192.2 L612.7,1190.4 L615.7,1188.6 L618.7,1186.8 L621.7,1185.0 L624.7,1183.3 L627.7,1181.6 L630.7,1179.9 L633.7,1178.3 L636.7,1176.7 L639.7,1175.0 L642.7,1173.5 L645.7,1171.9 L648.7,1170.4 L651.7,1168.9 L654.7,1167.4 L657.8,1165.9 L660.8,1164.5 L663.8,1163.1 L666.8,1161.7 L669.8,1160.4 L672.8,1159.0 L675.8,1157.7 L678.8,1156.4 L681.8,1155.2 L684.8,1153.9 L687.8,1152.7 L690.8,1151.5 L693.8,1150.4 L696.8,1149.2 L699.8,1148.1 L702.8,1147.0 L705.8,1145.9 L708.8,1144.8 L711.9,1143.8 L714.9,1142.8 L717.9,1141.8 L720.9,1140.8 L723.9,1139.9 L726.9,1138.9 L729.9,1138.0 L732.9,1137.1 L735.9,1136.3 L738.9,1135.4 L741.9,1134.6 L744.9,1133.8 L747.9,1133.0 L750.9,1132.2 L753.9,1131.4 L756.9,1130.7 L759.9,1130.0 L763.0,1129.3 L766.0,1128.6 L769.0,1128.0 L772.0,1127.3 L775.0,1126.7 L778.0,1126.1 L781.0,1125.5 L784.0,1124.9 L787.0,1124.3 L790.0,1123.8 L793.0,1123.2 L796.0,1122.7 L799.0,1122.2 L802.0,1121.7 L805.0,1121.3 L808.0,1120.8 L811.0,1120.4 L814.0,1119.9 L817.1,1119.5 L820.1,1119.1 L823.1,1118.7 L826.1,1118.3 L829.1,1117.9 L832.1,1117.6 L835.1,1117.2 L838.1,1116.9 L841.1,1116.6 L844.1,1116.2 L847.1,1115.9 L850.1,1115.6 L853.1,1115.3 L856.1,1115.1 L859.1,1114.8 L862.1,1114.5 L865.1,1114.3 L868.1,1114.0 L871.2,1113.8 L874.2,1113.5 L877.2,1113.3 L880.2,1113.0 L883.2,1112.8 L886.2,1112.6 L889.2,1112.4 L892.2,1112.2 L895.2,1111.9 L898.2,1111.7 L901.2,1111.5 L904.2,1111.3 L907.2,1111.1 L910.2,1110.9 L913.2,1110.7 L916.2,1110.5 L919.2,1110.3 L922.3,1110.1 L925.3,1110.0 L928.3,1109.8 L931.3,1109.6 L934.3,1109.4 L937.3,1109.3 L940.3,1109.2 L943.3,1109.0 L946.3,1108.9 L949.3,1108.8 L952.3,1108.7 L955.3,1108.6 L958.3,1108.6 L961.3,1108.5 L964.3,1108.4 L967.3,1108.4 L970.3,1108.3 L973.3,1108.3 L976.4,1108.3 L979.4,1108.2 L982.4,1108.2 L985.4,1108.2 L988.4,1108.2 L991.4,1108.2 L994.4,1108.2 L997.4,1108.2 L1000.4,1108.2 L1003.4,1108.2 L1006.4,1108.2 L1009.4,1108.2 L1012.4,1108.2 L1015.4,1108.2 L1018.4,1108.2 L1021.4,1108.2 L1024.4,1108.2 L1027.4,1108.2 L1030.5,1108.2 L1033.5,1108.2 L1036.5,1108.2 L1039.5,1108.2 L1042.5,1108.2 L1045.5,1108.1 L1048.5,1108.1 L1051.5,1108.0 L1054.5,1108.0" fill="none" stroke="#000" stroke-width="6.0" stroke-linejoin="round"/>
<path d="M258.0,1494.0 L261.0,1491.2 L264.0,1488.4 L267.0,1485.6 L270.0,1482.8 L273.0,1480.0 L276.0,1477.1 L279.0,1474.3 L282.0,1471.5 L285.1,1468.6 L288.1,1465.8 L291.1,1462.9 L294.1,1460.0 L297.1,1457.2 L300.1,1454.3 L303.1,1451.5 L306.1,1448.6 L309.1,1445.7 L312.1,1442.8 L315.1,1440.0 L318.1,1437.1 L321.1,1434.2 L324.1,1431.3 L327.1,1428.4 L330.1,1425.6 L333.1,1422.7 L336.1,1419.8 L339.2,1416.9 L342.2,1414.0 L345.2,1411.2 L348.2,1408.3 L351.2,1405.4 L354.2,1402.5 L357.2,1399.7 L360.2,1396.8 L363.2,1394.0 L366.2,1391.1 L369.2,1388.2 L372.2,1385.4 L375.2,1382.5 L378.2,1379.7 L381.2,1376.9 L384.2,1374.0 L387.2,1371.2 L390.2,1368.4 L393.3,1365.6 L396.3,1362.8 L399.3,1360.0 L402.3,1357.2 L405.3,1354.4 L408.3,1351.6 L411.3,1348.9 L414.3,1346.1 L417.3,1343.4 L420.3,1340.6 L423.3,1337.9 L426.3,1335.2 L429.3,1332.4 L432.3,1329.7 L435.3,1327.0 L438.3,1324.4 L441.3,1321.7 L444.4,1319.0 L447.4,1316.3 L450.4,1313.7 L453.4,1311.1 L456.4,1308.4 L459.4,1305.8 L462.4,1303.2 L465.4,1300.6 L468.4,1298.0 L471.4,1295.4 L474.4,1292.9 L477.4,1290.3 L480.4,1287.8 L483.4,1285.2 L486.4,1282.7 L489.4,1280.2 L492.4,1277.7 L495.4,1275.2 L498.5,1272.8 L501.5,1270.3 L504.5,1267.9 L507.5,1265.4 L510.5,1263.0 L513.5,1260.6 L516.5,1258.2 L519.5,1255.8 L522.5,1253.5 L525.5,1251.1 L528.5,1248.8 L531.5,1246.5 L534.5,1244.2 L537.5,1241.9 L540.5,1239.6 L543.5,1237.3 L546.5,1235.1 L549.5,1232.9 L552.6,1230.7 L555.6,1228.5 L558.6,1226.3 L561.6,1224.1 L564.6,1222.0 L567.6,1219.9 L570.6,1217.8 L573.6,1215.7 L576.6,1213.6 L579.6,1211.6 L582.6,1209.5 L585.6,1207.5 L588.6,1205.5 L591.6,1203.6 L594.6,1201.6 L597.6,1199.7 L600.6,1197.8 L603.7,1195.9 L606.7,1194.0 L609.7,1192.2 L612.7,1190.4 L615.7,1188.6 L618.7,1186.8 L621.7,1185.0 L624.7,1183.3 L627.7,1181.6 L630.7,1179.9 L633.7,1178.3 L636.7,1176.7 L639.7,1175.0 L642.7,1173.5 L645.7,1171.9 L648.7,1170.4 L651.7,1168.9 L654.7,1167.4 L657.8,1165.9 L660.8,1164.5 L663.8,1163.1 L666.8,1161.7 L669.8,1160.4 L672.8,1159.0 L675.8,1157.7 L678.8,1156.4 L681.8,1155.2 L684.8,1153.9 L687.8,1152.7 L690.8,1151.5 L693.8,1150.4 L696.8,1149.2 L699.8,1148.1 L702.8,1147.0 L705.8,1145.9 L708.8,1144.8 L711.9,1143.8 L714.9,1142.8 L717.9,1141.8 L720.9,1140.8 L723.9,1139.9 L726.9,1138.9 L729.9,1138.0 L732.9,1137.1 L735.9,1136.3 L738.9,1135.4 L741.9,1134.6 L744.9,1133.8 L747.9,1133.0 L750.9,1132.2 L753.9,1131.4 L756.9,1130.7 L759.9,1130.0 L763.0,1129.3 L766.0,1128.6 L769.0,1128.0 L772.0,1127.3 L775.0,1126.7 L778.0,1126.1 L781.0,1125.5 L784.0,1124.9 L787.0,1124.3 L790.0,1123.8 L793.0,1123.2 L796.0,1122.7 L799.0,1122.2 L802.0,1121.7 L805.0,1121.3 L808.0,1120.8 L811.0,1120.4 L814.0,1119.9 L817.1,1119.5 L820.1,1119.1 L823.1,1118.7 L826.1,1118.3 L829.1,1117.9 L832.1,1117.6 L835.1,1117.2 L838.1,1116.9 L841.1,1116.6 L844.1,1116.2 L847.1,1115.9 L850.1,1115.6 L853.1,1115.3 L856.1,1115.1 L859.1,1114.8 L862.1,1114.5 L865.1,1114.3 L868.1,1114.0" fill="none" stroke="#000" stroke-width="6.9" stroke-linejoin="round" stroke-linecap="round"/>
<line x1="258.00" y1="1475.40" x2="258.00" y2="1514.00" stroke="#000" stroke-width="1.8" stroke-linecap="butt"/>
<line x1="250.60" y1="1475.40" x2="265.40" y2="1475.40" stroke="#000" stroke-width="1.6" stroke-linecap="butt"/>
<line x1="250.60" y1="1514.00" x2="265.40" y2="1514.00" stroke="#000" stroke-width="1.6" stroke-linecap="butt"/>
<rect x="250.00" y="1486.10" width="16" height="16" fill="#000"/>
<line x1="457.05" y1="1270.50" x2="457.05" y2="1332.40" stroke="#000" stroke-width="1.8" stroke-linecap="butt"/>
<line x1="449.65" y1="1270.50" x2="464.45" y2="1270.50" stroke="#000" stroke-width="1.6" stroke-linecap="butt"/>
<line x1="449.65" y1="1332.40" x2="464.45" y2="1332.40" stroke="#000" stroke-width="1.6" stroke-linecap="butt"/>
<rect x="449.05" y="1293.40" width="16" height="16" fill="#000"/>
<line x1="656.70" y1="1124.00" x2="656.70" y2="1169.50" stroke="#000" stroke-width="1.8" stroke-linecap="butt"/>
<line x1="649.30" y1="1124.00" x2="664.10" y2="1124.00" stroke="#000" stroke-width="1.6" stroke-linecap="butt"/>
<line x1="649.30" y1="1169.50" x2="664.10" y2="1169.50" stroke="#000" stroke-width="1.6" stroke-linecap="butt"/>
<rect x="648.70" y="1138.70" width="16" height="16" fill="#000"/>
<line x1="856.05" y1="1081.00" x2="856.05" y2="1135.50" stroke="#000" stroke-width="1.8" stroke-linecap="butt"/>
<line x1="848.65" y1="1081.00" x2="863.45" y2="1081.00" stroke="#000" stroke-width="1.6" stroke-linecap="butt"/>
<line x1="848.65" y1="1135.50" x2="863.45" y2="1135.50" stroke="#000" stroke-width="1.6" stroke-linecap="butt"/>
<rect x="848.05" y="1099.80" width="16" height="16" fill="#000"/>
<line x1="1054.60" y1="1077.50" x2="1054.60" y2="1138.90" stroke="#000" stroke-width="1.8" stroke-linecap="butt"/>
<line x1="1047.20" y1="1077.50" x2="1062.00" y2="1077.50" stroke="#000" stroke-width="1.6" stroke-linecap="butt"/>
<line x1="1047.20" y1="1138.90" x2="1062.00" y2="1138.90" stroke="#000" stroke-width="1.6" stroke-linecap="butt"/>
<rect x="1046.60" y="1099.95" width="16" height="16" fill="#000"/>
<text transform="translate(55.90,1285.60) rotate(-90)" font-size="44.5"><tspan font-style="italic">q</tspan><tspan font-size="26.7" dy="16">e</tspan><tspan dy="-16">(mg/g)</tspan></text>
<text x="1032.80" y="980.00" font-size="95" text-anchor="start" letter-spacing="1.3">(c)</text>
<text x="557.2" y="1665.8" font-size="43.5"><tspan font-style="italic">C</tspan><tspan font-size="26" dy="16">0</tspan><tspan dy="-16"> (mg/L)</tspan></text>
</g>
<g id="panel-d">
<rect x="1389.92" y="1286.00" width="133.0" height="290.00" fill="#0000ff" stroke="#000" stroke-width="2.2"/>
<line x1="1456.42" y1="1274.35" x2="1456.42" y2="1297.65" stroke="#000" stroke-width="1.7" stroke-linecap="butt"/>
<line x1="1449.02" y1="1274.35" x2="1463.82" y2="1274.35" stroke="#000" stroke-width="1.5" stroke-linecap="butt"/>
<line x1="1449.02" y1="1297.65" x2="1463.82" y2="1297.65" stroke="#000" stroke-width="1.5" stroke-linecap="butt"/>
<rect x="1721.95" y="1112.40" width="133.0" height="463.60" fill="#0000ff" stroke="#000" stroke-width="2.2"/>
<line x1="1788.45" y1="1089.10" x2="1788.45" y2="1135.70" stroke="#000" stroke-width="1.7" stroke-linecap="butt"/>
<line x1="1781.05" y1="1089.10" x2="1795.85" y2="1089.10" stroke="#000" stroke-width="1.5" stroke-linecap="butt"/>
<line x1="1781.05" y1="1135.70" x2="1795.85" y2="1135.70" stroke="#000" stroke-width="1.5" stroke-linecap="butt"/>
<rect x="2053.98" y="1042.50" width="133.0" height="533.50" fill="#0000ff" stroke="#000" stroke-width="2.2"/>
<line x1="2120.48" y1="1014.54" x2="2120.48" y2="1070.46" stroke="#000" stroke-width="1.7" stroke-linecap="butt"/>
<line x1="2113.08" y1="1014.54" x2="2127.88" y2="1014.54" stroke="#000" stroke-width="1.5" stroke-linecap="butt"/>
<line x1="2113.08" y1="1070.46" x2="2127.88" y2="1070.46" stroke="#000" stroke-width="1.5" stroke-linecap="butt"/>
<line x1="1290.10" y1="878.95" x2="1290.10" y2="1577.80" stroke="#000" stroke-width="4.0" stroke-linecap="butt"/>
<line x1="2286.20" y1="878.95" x2="2286.20" y2="1577.80" stroke="#000" stroke-width="4.0" stroke-linecap="butt"/>
<line x1="1288.10" y1="880.60" x2="2288.20" y2="880.60" stroke="#000" stroke-width="3.3" stroke-linecap="butt"/>
<line x1="1288.10" y1="1576.00" x2="2288.20" y2="1576.00" stroke="#000" stroke-width="3.6" stroke-linecap="butt"/>
<text x="1275.80" y="1587.40" font-size="39" text-anchor="end" >0</text>
<line x1="1290.10" y1="1518.11" x2="1297.10" y2="1518.11" stroke="#000" stroke-width="3.3" stroke-linecap="round"/>
<line x1="1290.10" y1="1460.22" x2="1303.20" y2="1460.22" stroke="#000" stroke-width="3.3" stroke-linecap="round"/>
<text x="1275.80" y="1471.62" font-size="39" text-anchor="end" >5</text>
<line x1="1290.10" y1="1402.34" x2="1297.10" y2="1402.34" stroke="#000" stroke-width="3.3" stroke-linecap="round"/>
<line x1="1290.10" y1="1344.45" x2="1303.20" y2="1344.45" stroke="#000" stroke-width="3.3" stroke-linecap="round"/>
<text x="1275.80" y="1355.85" font-size="39" text-anchor="end" >10</text>
<line x1="1290.10" y1="1286.56" x2="1297.10" y2="1286.56" stroke="#000" stroke-width="3.3" stroke-linecap="round"/>
<line x1="1290.10" y1="1228.67" x2="1303.20" y2="1228.67" stroke="#000" stroke-width="3.3" stroke-linecap="round"/>
<text x="1275.80" y="1240.08" font-size="39" text-anchor="end" >15</text>
<line x1="1290.10" y1="1170.79" x2="1297.10" y2="1170.79" stroke="#000" stroke-width="3.3" stroke-linecap="round"/>
<line x1="1290.10" y1="1112.90" x2="1303.20" y2="1112.90" stroke="#000" stroke-width="3.3" stroke-linecap="round"/>
<text x="1275.80" y="1124.30" font-size="39" text-anchor="end" >20</text>
<line x1="1290.10" y1="1055.01" x2="1297.10" y2="1055.01" stroke="#000" stroke-width="3.3" stroke-linecap="round"/>
<line x1="1290.10" y1="997.12" x2="1303.20" y2="997.12" stroke="#000" stroke-width="3.3" stroke-linecap="round"/>
<text x="1275.80" y="1008.52" font-size="39" text-anchor="end" >25</text>
<line x1="1290.10" y1="939.24" x2="1297.10" y2="939.24" stroke="#000" stroke-width="3.3" stroke-linecap="round"/>
<text x="1275.80" y="891.00" font-size="39" text-anchor="end" >30</text>
<text x="1438.12" y="1626.30" font-size="39" text-anchor="middle" >288.15</text>
<text x="1777.65" y="1625.20" font-size="39" text-anchor="middle" >298.15</text>
<text x="2096.68" y="1628.00" font-size="39" text-anchor="middle" >308.15</text>
<text transform="translate(1214.50,1340.20) rotate(-90)" font-size="44.5"><tspan font-style="italic">q</tspan><tspan font-size="26.7" dy="16">e</tspan><tspan dy="-16">(mg/g)</tspan></text>
<text x="2155.90" y="978.50" font-size="95" text-anchor="start" letter-spacing="1.3">(d)</text>
<text x="1735.6" y="1673.8" font-size="45"><tspan font-style="italic">T</tspan> (K)</text>
</g>
</svg>
</body></html>
